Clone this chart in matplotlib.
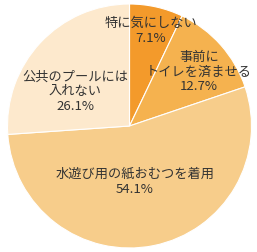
import matplotlib
matplotlib.use("Agg")
import matplotlib.pyplot as plt

plt.rcParams['font.family'] = ['Noto Sans CJK JP', 'DejaVu Sans']

# data
labels = ['特に気にしない', '事前に\nトイレを済ませる', '水遊び用の紙おむつを着用', '公共のプールには\n入れない']
values = [7.1, 12.7, 54.1, 26.1]
colors = ['#f39a2b', '#f5b24f', '#f7cd8b', '#fde9cd']

# label centres in pixel coords (x, y from top)
label_pos = [(151, 31), (199, 72), (135, 182), (75, 92)]

W, H = 257, 253
fig = plt.figure(figsize=(W / 100, H / 100), dpi=100)
ax = fig.add_axes([0, 0, 1, 1])

ax.pie(values, colors=colors, startangle=90, counterclock=False,
       center=(129.5, H - 127), radius=122,
       wedgeprops=dict(edgecolor='white', linewidth=0.8))
ax.set_xlim(0, W)
ax.set_ylim(0, H)
ax.set_aspect('auto')
ax.axis('off')

for lab, val, (x, y) in zip(labels, values, label_pos):
    ax.text(x, H - y, f"{lab}\n{val:.1f}%", ha='center', va='center',
            fontsize=9.5, color='#333333', linespacing=1.2)

fig.savefig('out.png', dpi=100)
